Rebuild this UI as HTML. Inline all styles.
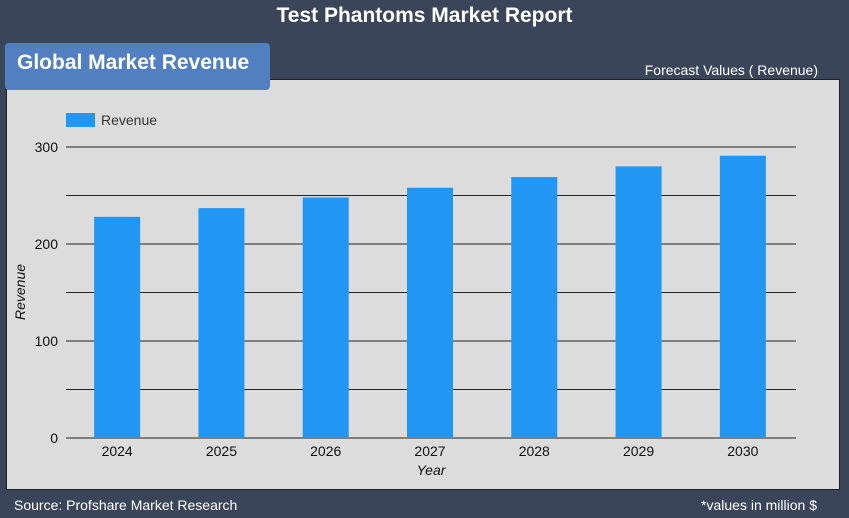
<!DOCTYPE html>
<html><head><meta charset="utf-8"><style>
body{margin:0;width:849px;height:518px;background:#3b4559;font-family:"Liberation Sans",sans-serif;position:relative;overflow:hidden}
.t{position:absolute;color:#fff}
</style></head><body>
<div class="t" style="left:0;width:849px;top:4px;text-align:center;font-size:21px;font-weight:bold">Test Phantoms Market Report</div>
<div style="position:absolute;left:6px;top:79px;width:832px;height:409px;background:#dcdcdc;border:1px solid #222"></div>
<div class="t" style="left:5px;top:43px;width:265px;height:47px;background:#527fbf;border-radius:4px;box-sizing:border-box;padding:8px 0 0 12px;font-size:21px;font-weight:bold">Global Market Revenue</div>
<div class="t" style="right:31px;top:62px;font-size:14px">Forecast Values ( Revenue)</div>
<svg id="c" width="849" height="518" style="position:absolute;left:0;top:0"></svg>
<div class="t" style="left:14px;top:497px;font-size:14px">Source: Profshare Market Research</div>
<div class="t" style="right:32px;top:497px;font-size:14px">*values in million $</div>
<script>
const categories=["2024","2025","2026","2027","2028","2029","2030"];
const revenue=[228,237,248,258,269,280,291];
const yTicks=[0,100,200,300];
const gridVals=[0,50,100,150,200,250,300];
const svg=document.getElementById('c');const NS='http://www.w3.org/2000/svg';
const x0=66,x1=796,yb=438,yt=147,ymax=300;
const y=v=>yb-(v/ymax)*(yb-yt);
const step=(x1-x0)/categories.length;
const xc=i=>x0+step*(i+0.5)-1;
function el(t,a,txt){const e=document.createElementNS(NS,t);for(const k in a)e.setAttribute(k,a[k]);if(txt!==undefined)e.textContent=txt;svg.appendChild(e);return e;}
gridVals.forEach(v=>{const l=el('line',{x1:x0,x2:x1,y1:y(v),y2:y(v),stroke:'#222','stroke-width':1});

});
yTicks.forEach(v=>{const t=el('text',{x:58,y:y(v)+5,'text-anchor':'end','font-size':14,fill:'#111'},v);

});
revenue.forEach((v,i)=>{const r=el('rect',{x:xc(i)-23,y:y(v),width:46,height:yb-y(v),fill:'#2196f3'});


const t=el('text',{x:xc(i),y:456,'text-anchor':'middle','font-size':14,fill:'#111'},categories[i]);

});
const xt=el('text',{x:431,y:475,'text-anchor':'middle','font-size':14,'font-style':'italic',fill:'#111'},'Year');


const yt2=el('text',{x:25,y:292,'text-anchor':'middle','font-size':14,'font-style':'italic',fill:'#111',transform:'rotate(-90 25 292)'},'Revenue');


const lg=el('rect',{x:66,y:113,width:29,height:14,fill:'#2196f3'});


const lt=el('text',{x:101,y:125,'font-size':14,fill:'#333'},'Revenue');


</script>
</body></html>
